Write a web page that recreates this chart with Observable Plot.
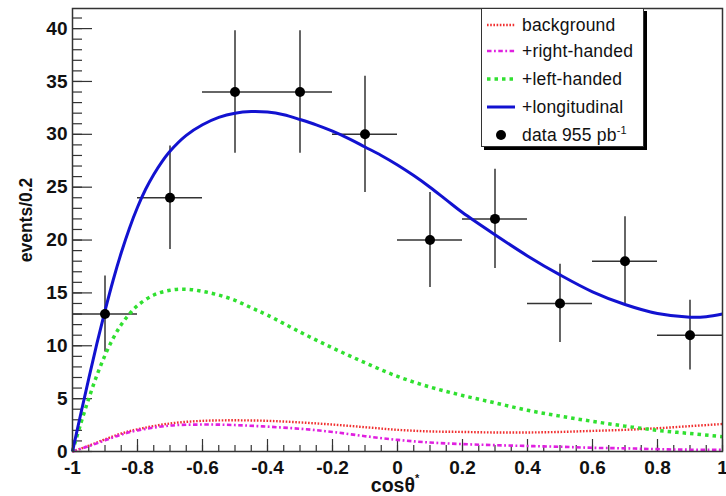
<!DOCTYPE html>
<html><head><meta charset="utf-8">
<script src="https://cdn.jsdelivr.net/npm/d3@7"></script>
<script src="https://cdn.jsdelivr.net/npm/@observablehq/plot@0.6"></script>
<style>
body{margin:0;background:#fff;}
#wrap{position:relative;width:726px;height:496px;font-family:"Liberation Sans",Arial,Helvetica,sans-serif;}
#legend{position:absolute;left:481px;top:8px;width:161px;height:137px;border:1px solid #333;background:#fff;box-shadow:3px 3px 0 #000;box-sizing:content-box;}
.row{position:absolute;left:0;height:24px;display:flex;align-items:center;font-size:17.5px;color:#111;white-space:nowrap;letter-spacing:0.2px;}
.row svg{display:block;margin-left:5px;margin-right:7px;}
sup{font-size:11px;vertical-align:7px;line-height:0;}
</style></head><body><div id="wrap"></div>
<script>
// ---- data ----
const binCenters = [-0.9, -0.7, -0.5, -0.3, -0.1, 0.1, 0.3, 0.5, 0.7, 0.9];
const counts     = [13, 24, 34, 34, 30, 20, 22, 14, 18, 11];
const errors     = [3.6, 4.9, 5.8, 5.8, 5.5, 4.5, 4.7, 3.7, 4.2, 3.3];
const binHalfWidth = 0.1;

const longX = [-1, -0.975, -0.95, -0.925, -0.9, -0.875, -0.85, -0.825, -0.8, -0.775, -0.75, -0.725, -0.7, -0.65, -0.6, -0.55, -0.5, -0.45, -0.4, -0.35, -0.3, -0.25, -0.2, -0.15, -0.1, -0.05, 0, 0.05, 0.1, 0.15, 0.2, 0.3, 0.4, 0.5, 0.6, 0.7, 0.8, 0.9, 0.95, 1.0];
const longY = [0, 3.5, 6.9, 10.2, 13.3, 16.2, 18.8, 21.1, 23.1, 24.8, 26.2, 27.4, 28.4, 29.9, 30.9, 31.6, 32.0, 32.15, 32.1, 31.85, 31.4, 30.9, 30.3, 29.6, 28.8, 28.0, 27.1, 26.1, 25.0, 23.8, 22.6, 20.5, 18.5, 16.7, 15.1, 13.9, 13.05, 12.7, 12.75, 13.0];

const leftX = [-1, -0.975, -0.95, -0.925, -0.9, -0.875, -0.85, -0.825, -0.8, -0.75, -0.7, -0.65, -0.6, -0.55, -0.5, -0.45, -0.4, -0.3, -0.2, -0.1, 0, 0.1, 0.2, 0.3, 0.4, 0.5, 0.6, 0.7, 0.8, 0.9, 1.0];
const leftY = [0, 2.6, 5.0, 7.2, 9.1, 10.7, 12.0, 13.0, 13.8, 14.8, 15.25, 15.35, 15.15, 14.8, 14.3, 13.6, 12.9, 11.3, 9.8, 8.4, 7.1, 6.1, 5.3, 4.6, 3.9, 3.35, 2.85, 2.4, 2.0, 1.7, 1.4];

const bgX = [-1, -0.95, -0.9, -0.85, -0.8, -0.7, -0.6, -0.5, -0.4, -0.3, -0.2, -0.1, 0, 0.1, 0.2, 0.3, 0.4, 0.5, 0.6, 0.7, 0.8, 0.9, 1.0];
const bgY = [0, 0.55, 1.15, 1.7, 2.1, 2.65, 2.9, 2.95, 2.9, 2.75, 2.55, 2.3, 2.05, 1.9, 1.85, 1.8, 1.8, 1.85, 1.95, 2.05, 2.2, 2.4, 2.6];

const rhX = [-1, -0.95, -0.9, -0.85, -0.8, -0.7, -0.6, -0.5, -0.4, -0.3, -0.2, -0.1, 0, 0.1, 0.2, 0.3, 0.4, 0.5, 0.6, 0.7, 0.8, 0.9, 1.0];
const rhY = [0, 0.5, 1.05, 1.6, 2.0, 2.45, 2.55, 2.5, 2.35, 2.15, 1.85, 1.45, 1.1, 0.85, 0.7, 0.6, 0.52, 0.45, 0.35, 0.3, 0.22, 0.17, 0.15];

const xTickLabels = [-1, -0.8, -0.6, -0.4, -0.2, 0, 0.2, 0.4, 0.6, 0.8, 1];
const yTickLabels = [0, 5, 10, 15, 20, 25, 30, 35, 40];
const xMinorTicks = d3.range(-1, 1.0001, 0.05);
const yMinorTicks = d3.range(0, 41.5, 1);

const legendLabels = ["background", "+right-handed", "+left-handed", "+longitudinal", "data 955 pb"];

// ---- styles ----
const FONT = '"Liberation Sans", Arial, Helvetica, sans-serif';
const RED = "#f03030", MAG = "#e020e0", GREEN = "#30e030", BLUE = "#1212d0";
const styles = [
  {stroke: RED, strokeWidth: 2.4, dash: "1.6,1.6"},
  {stroke: MAG, strokeWidth: 2.6, dash: "4.5,2.5,1.8,2.5"},
  {stroke: GREEN, strokeWidth: 3.5, dash: "3.5,4"},
  {stroke: BLUE, strokeWidth: 3, dash: null}
];

const W = 726, H = 496, mL = 72, mR = 4, mT = 8, mB = 45;
const innerW = W - mL - mR, innerH = H - mT - mB;
const fmt = d => String(d);

const curve = (xs, ys, s) => Plot.line(ys, {x: xs, y: ys, stroke: s.stroke, strokeWidth: s.strokeWidth, strokeDasharray: s.dash, strokeLinecap: "butt", curve: "catmull-rom"});

const plot = Plot.plot({
  width: W, height: H,
  marginLeft: mL, marginRight: mR, marginTop: mT, marginBottom: mB,
  x: {domain: [-1, 1]},
  y: {domain: [0, 41.9]},
  style: {fontFamily: FONT, fontSize: "19px", color: "#111", background: "white"},
  marks: [
    Plot.ruleY(yMinorTicks, {y: d => d, insetRight: innerW - 10, stroke: "#333", strokeWidth: 1.2}),
    Plot.ruleY(yTickLabels, {y: d => d, insetRight: innerW - 20, stroke: "#333", strokeWidth: 1.2}),
    Plot.ruleX(xMinorTicks, {x: d => d, insetTop: innerH - 6, stroke: "#333", strokeWidth: 1.2}),
    Plot.ruleX(xTickLabels, {x: d => d, insetTop: innerH - 12, stroke: "#333", strokeWidth: 1.2}),
    Plot.axisY(yTickLabels, {tickSize: 0, tickPadding: 5, fontWeight: "bold", label: null, tickFormat: fmt}),
    Plot.axisX(xTickLabels, {tickSize: 0, tickPadding: 9, fontWeight: "bold", label: null, tickFormat: fmt}),
    Plot.ruleX(counts, {x: binCenters, y1: counts.map((c, i) => c - errors[i]), y2: counts.map((c, i) => c + errors[i]), stroke: "#333", strokeWidth: 1.5}),
    Plot.ruleY(counts, {y: counts, x1: binCenters.map(c => c - binHalfWidth), x2: binCenters.map(c => c + binHalfWidth), stroke: "#333", strokeWidth: 1.5}),
    curve(bgX, bgY, styles[0]),
    curve(rhX, rhY, styles[1]),
    curve(leftX, leftY, styles[2]),
    curve(longX, longY, styles[3]),
    Plot.dot(counts, {x: binCenters, y: counts, r: 5, fill: "black"}),
    Plot.frame({stroke: "#333", strokeWidth: 1.5})
  ]
});

const svg = d3.select(plot);
// axis titles
const xt = svg.append("text").attr("x", mL + innerW / 2 - 2).attr("y", 492).attr("text-anchor", "middle")
  .attr("font-family", FONT).attr("font-size", 19.5).attr("font-weight", "bold").attr("fill", "#111");
xt.append("tspan").text("cosθ");
xt.append("tspan").attr("font-size", 11).attr("dy", -10).text("*");
svg.append("text").attr("transform", "translate(32,220) rotate(-90)").attr("text-anchor", "middle")
  .attr("font-family", FONT).attr("font-size", 17.5).attr("font-weight", "bold").attr("fill", "#111").text("events/0.2");

const wrap = document.getElementById("wrap");
wrap.appendChild(plot);

// legend
const legend = document.createElement("div");
legend.id = "legend";
const rowTops = [4, 30, 58, 86, 114];
legendLabels.forEach((lab, i) => {
  const row = document.createElement("div");
  row.className = "row";
  row.style.top = rowTops[i] + "px";
  let sample;
  if (i < 4) {
    const s = styles[i];
    sample = `<svg width="28" height="10"><line x1="0" x2="28" y1="5" y2="5" stroke="${s.stroke}" stroke-width="${s.strokeWidth}" stroke-linecap="butt" ${s.dash ? `stroke-dasharray="${s.dash}"` : ""}/></svg>`;
  } else {
    sample = `<svg width="28" height="10"><circle cx="14" cy="5" r="5" fill="black"/></svg>`;
  }
  row.innerHTML = sample + `<span>${lab}${i === 4 ? "<sup>-1</sup>" : ""}</span>`;
  legend.appendChild(row);
});
wrap.appendChild(legend);
</script>
</body></html>
